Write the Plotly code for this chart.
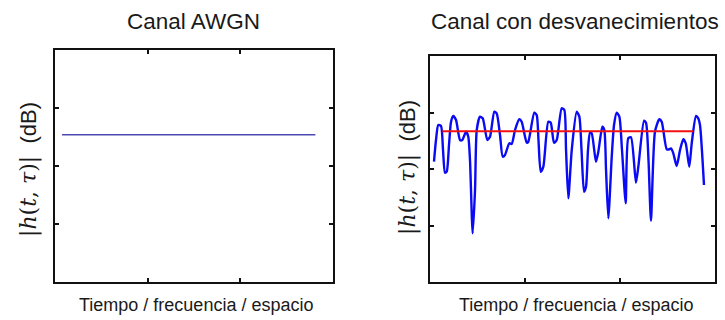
import plotly.graph_objects as go

# Left panel: flat AWGN channel gain (dB) over normalised time/frequency/space
awgn_x = [0.076, 2.81]
awgn_db = [-4.6, -4.6]

# Right panel: fading channel magnitude (dB) and its mean level
fading_x = [0.042, 0.063, 0.087, 0.116, 0.137, 0.158, 0.176, 0.200, 0.221, 0.245,
            0.274, 0.316, 0.340, 0.379, 0.403, 0.421, 0.449, 0.474, 0.492, 0.526,
            0.555, 0.603, 0.632, 0.677, 0.702, 0.737, 0.765, 0.789, 0.835, 0.860,
            0.895, 0.940, 0.965, 1.018, 1.035, 1.098, 1.123, 1.142, 1.165, 1.193,
            1.245, 1.271, 1.305, 1.334, 1.386, 1.414, 1.432, 1.456, 1.492, 1.544,
            1.572, 1.595, 1.621, 1.642, 1.663, 1.684, 1.702, 1.747, 1.772, 1.814,
            1.835, 1.853, 1.877, 1.913, 1.937, 1.965, 1.993, 2.021, 2.060, 2.087,
            2.116, 2.168, 2.193, 2.253, 2.274, 2.300, 2.326, 2.368, 2.414, 2.439,
            2.492, 2.519, 2.537, 2.561, 2.597, 2.632, 2.666, 2.692, 2.729, 2.755,
            2.800, 2.824, 2.842, 2.884]
fading_db = [-8.71, -4.87, -2.21, -2.39, -6.64, -10.65, -10.48, -5.75, -1.68, -0.62,
             -1.33, -4.87, -4.87, -3.40, -4.28, -8.41, -21.38, -13.72, -3.10, -0.74,
             -1.03, -4.87, -4.28, 0.14, -0.14, -3.98, -7.82, -7.52, -5.45, -5.58,
             -3.10, -1.20, -1.63, -5.35, -5.17, -0.04, -0.44, -4.87, -10.48, -9.59,
             -1.63, -1.81, -5.35, -4.87, 0.74, 0.44, -6.64, -15.19, -6.64, 0.14,
             -0.74, -6.64, -14.02, -13.13, -6.64, -3.58, -3.68, -8.71, -6.94, -2.51,
             -3.10, -10.18, -18.73, -7.82, -2.21, -0.04, -0.74, -6.64, -16.07, -4.57,
             -4.39, -12.42, -9.59, -1.45, -1.81, -8.41, -19.15, -3.40, -1.20, -1.63,
             -6.51, -6.51, -6.34, -7.22, -9.47, -6.64, -4.74, -5.45, -9.59, -5.45,
             -0.62, -1.03, -2.21, -12.83]
mean_x = [0.13, 2.77]
mean_db = [-3.3, -3.3]

# Axis settings shared by both panels (unlabelled ticks)
x_range = [0, 3]
x_ticks = [1, 2]
y_range = [-30, 10]
y_ticks = [-20, -10, 0]

titles = ["Canal AWGN", "Canal con desvanecimientos"]
x_title = "Tiempo / frecuencia / espacio"
y_title = ("<span style='font-family:DejaVu Serif'>|<i>h</i>(<i>t</i>,&nbsp;<i>τ</i>)|</span>"
           "&nbsp; (dB)")

fig = go.Figure()
fig.add_trace(go.Scatter(x=awgn_x, y=awgn_db, mode="lines",
                         line=dict(color="#4b4bb2", width=1.6),
                         xaxis="x", yaxis="y", showlegend=False))
fig.add_trace(go.Scatter(x=fading_x, y=fading_db, mode="lines",
                         line=dict(color="#0a0af5", width=2.4, shape="spline", smoothing=0.6),
                         xaxis="x2", yaxis="y2", showlegend=False))
fig.add_trace(go.Scatter(x=mean_x, y=mean_db, mode="lines",
                         line=dict(color="#f21010", width=2),
                         xaxis="x2", yaxis="y2", showlegend=False))

W, H = 725, 320


def px(x):
    return x / W


def py(y):
    return 1 - y / H


axis_style = dict(showline=True, linecolor="#111111", linewidth=2, mirror="allticks",
                  ticks="inside", ticklen=4, tickwidth=1.5, tickcolor="#111111",
                  showticklabels=False, showgrid=False, zeroline=False, fixedrange=True)

fig.update_layout(
    width=W, height=H,
    margin=dict(l=0, r=0, t=0, b=0),
    paper_bgcolor="white", plot_bgcolor="white",
    xaxis=dict(domain=[px(55), px(333)], range=x_range, tickvals=x_ticks,
               anchor="y", **axis_style),
    yaxis=dict(domain=[py(282), py(50)], range=y_range, tickvals=y_ticks,
               anchor="x", **axis_style),
    xaxis2=dict(domain=[px(430), px(715)], range=x_range, tickvals=x_ticks,
                anchor="y2", **axis_style),
    yaxis2=dict(domain=[py(282), py(56)], range=y_range, tickvals=y_ticks,
                anchor="x2", **axis_style),
)

text_font = dict(family="Liberation Sans, Arial, sans-serif", color="#1a1a1a")
ann = []
for cx, t in zip([193.5, 574.5], titles):
    ann.append(dict(x=px(cx), y=py(21), xref="paper", yref="paper", text=t,
                    showarrow=False, xanchor="center", yanchor="middle",
                    font=dict(size=22.5, **text_font)))
for cx in [195.5, 576]:
    ann.append(dict(x=px(cx), y=py(305), xref="paper", yref="paper", text=x_title,
                    showarrow=False, xanchor="center", yanchor="middle",
                    font=dict(size=18, **text_font)))
for cx, cy in [(29, 170), (408, 168)]:
    ann.append(dict(x=px(cx), y=py(cy), xref="paper", yref="paper", text=y_title,
                    showarrow=False, textangle=-90, xanchor="center", yanchor="middle",
                    font=dict(size=22, **text_font)))
fig.update_layout(annotations=ann)

fig.write_html("out.html")
